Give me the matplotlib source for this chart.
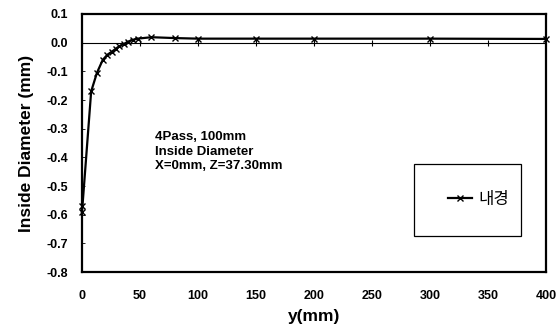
import matplotlib
matplotlib.use("Agg")
import matplotlib.pyplot as plt
from matplotlib.patches import Rectangle

# data
y_pos = [0, 0.5, 8, 13, 18, 22, 26, 29, 32, 36, 40, 44, 48, 60, 80, 100, 150, 200, 300, 400]
inside_dia = [-0.59, -0.57, -0.17, -0.105, -0.06, -0.042, -0.031, -0.022, -0.013, -0.005,
              0.004, 0.010, 0.014, 0.019, 0.016, 0.014, 0.014, 0.014, 0.014, 0.013]
x_ticks = [0, 50, 100, 150, 200, 250, 300, 350, 400]
y_ticks = [0.1, 0.0, -0.1, -0.2, -0.3, -0.4, -0.5, -0.6, -0.7, -0.8]
note_lines = ["4Pass, 100mm", "Inside Diameter", "X=0mm, Z=37.30mm"]

plt.rcParams['font.family'] = ['Liberation Sans', 'Noto Sans CJK KR', 'DejaVu Sans']

fig = plt.figure(figsize=(5.57, 3.33), dpi=100)
ax = fig.add_axes([0.147, 0.183, 0.833, 0.775])

ax.axhline(0, color='black', lw=0.8, zorder=1)
# excel-style tick marks sitting on the zero line
ax.plot(x_ticks, [0] * len(x_ticks), '|', color='black', ms=4, mew=0.8, zorder=1)

line, = ax.plot(y_pos, inside_dia, color='black', lw=1.6, marker='x', ms=3.8, mew=1.0,
                zorder=3, clip_on=False)

ax.set_xlim(0, 400)
ax.set_ylim(-0.8, 0.1)
ax.set_xticks(x_ticks)
ax.set_yticks(y_ticks)
ax.set_xticklabels([str(v) for v in x_ticks], fontsize=9, fontweight='bold')
ax.set_yticklabels([f"{v:.1f}" for v in y_ticks], fontsize=9, fontweight='bold')
ax.tick_params(axis='x', length=0, pad=13)
ax.tick_params(axis='y', direction='in', length=2, width=0.6, pad=10)

for s in ax.spines.values():
    s.set_linewidth(1.6)

ax.set_xlabel('y(mm)', fontsize=12.5, fontweight='bold', labelpad=5)
ax.set_ylabel('Inside Diameter (mm)', fontsize=12.5, fontweight='bold', labelpad=9)

ax.text(0.157, 0.545, "\n".join(note_lines), transform=ax.transAxes, fontsize=9.5,
        fontweight='bold', va='top', ha='left', linespacing=1.25)

# legend box
ax.add_patch(Rectangle((0.716, 0.14), 0.23, 0.279, transform=ax.transAxes,
                       fill=False, edgecolor='black', lw=0.9, zorder=4))
ax.legend([line], ['내경'], loc='center', bbox_to_anchor=(0.855, 0.28),
          frameon=False, handlelength=1.4, handletextpad=0.4,
          prop={'family': ['Noto Sans CJK KR', 'DejaVu Sans'], 'size': 12})

fig.savefig('out.png', dpi=100)
